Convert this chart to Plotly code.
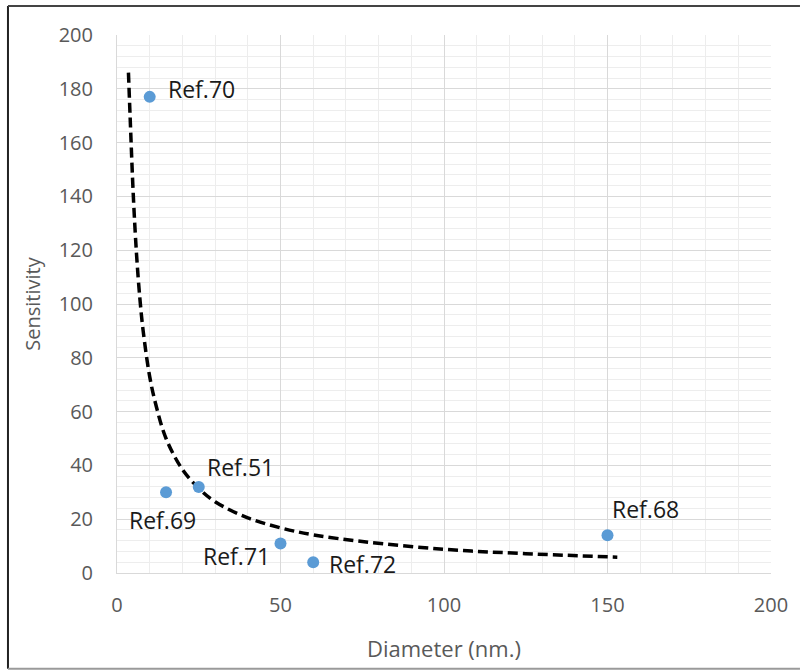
import plotly.graph_objects as go

# Data points
diameter = [10, 15, 25, 50, 60, 150]
sensitivity = [177, 30, 32, 11, 4, 14]
ref_labels = ["Ref.70", "Ref.69", "Ref.51", "Ref.71", "Ref.72", "Ref.68"]

# Trend line
trend_x = [3.5, 4, 5, 6, 7, 8, 10, 12, 15, 20, 25, 30, 40, 50, 60, 75, 100, 125, 153]
trend_y = [186, 170, 140, 118, 102, 90, 73, 62, 50, 38.5, 31.5, 26.5, 20.5, 16.8, 14.2, 11.7, 8.8, 7.2, 5.9]

x_ticks = [0, 50, 100, 150, 200]
y_ticks = [0, 20, 40, 60, 80, 100, 120, 140, 160, 180, 200]

# label offsets (px) : (xshift, yshift, xanchor)
label_pos = {
    "Ref.70": (16, 8, "left"),
    "Ref.69": (-4, -28, "center"),
    "Ref.51": (6, 20, "left"),
    "Ref.71": (-9, -13, "right"),
    "Ref.72": (14, -2, "left"),
    "Ref.68": (2, 26, "left"),
}

FONT = "Open Sans"

fig = go.Figure()
fig.add_trace(go.Scatter(
    x=trend_x, y=trend_y, mode="lines",
    line=dict(color="black", width=3.5, dash="10px,5px", shape="spline"),
    hoverinfo="skip", showlegend=False,
))
fig.add_trace(go.Scatter(
    x=diameter, y=sensitivity, mode="markers",
    marker=dict(color="#5B9BD5", size=12),
    showlegend=False,
))

for xv, yv, lab in zip(diameter, sensitivity, ref_labels):
    xs, ys, xa = label_pos[lab]
    fig.add_annotation(
        x=xv, y=yv, text=lab, showarrow=False,
        xshift=xs, yshift=ys, xanchor=xa, yanchor="middle",
        font=dict(family=FONT, size=23, color="#1a1a1a"),
    )

# outer frame (left, top dark; bottom grey)
XL, XR, YT, YB = -0.1667, 1.0443, 1.054, -0.178
for x0, y0, x1, y1, c in [
    (XL, YB, XL, YT, "#222222"),
    (XL, YT, XR, YT, "#444444"),
    (XL, YB, XR, YB, "#9a9a9a"),
]:
    fig.add_shape(type="line", xref="paper", yref="paper",
                  x0=x0, y0=y0, x1=x1, y1=y1,
                  line=dict(color=c, width=2))

fig.update_layout(
    width=800, height=671,
    margin=dict(l=117, r=29, t=35, b=98),
    paper_bgcolor="white", plot_bgcolor="white",
    font=dict(family=FONT, color="#595959"),
    xaxis=dict(
        range=[0, 200], tickvals=x_ticks, showgrid=True,
        gridcolor="#D9D9D9", gridwidth=1,
        minor=dict(dtick=10, showgrid=True, gridcolor="#EDEDED", gridwidth=1),
        zeroline=False, showline=True, linecolor="#D9D9D9",
        tickfont=dict(family=FONT, size=20, color="#595959"),
        ticks="outside", ticklen=14, tickcolor="rgba(0,0,0,0)",
        title=dict(text="Diameter (nm.)", font=dict(family=FONT, size=22, color="#595959"), standoff=24),
        fixedrange=True,
    ),
    yaxis=dict(
        range=[0, 200], tickvals=y_ticks, showgrid=True,
        gridcolor="#D9D9D9", gridwidth=1,
        minor=dict(dtick=4, showgrid=True, gridcolor="#EDEDED", gridwidth=1),
        zeroline=False, showline=True, linecolor="#D9D9D9",
        tickfont=dict(family=FONT, size=20, color="#595959"),
        ticks="outside", ticklen=19, tickcolor="rgba(0,0,0,0)",
        title=dict(text="Sensitivity", font=dict(family=FONT, size=20, color="#595959"), standoff=12),
        fixedrange=True,
    ),
)

fig.write_html("out.html", config={"displayModeBar": False},
               post_script="document.body.style.margin='0';document.body.style.overflow='hidden';")
